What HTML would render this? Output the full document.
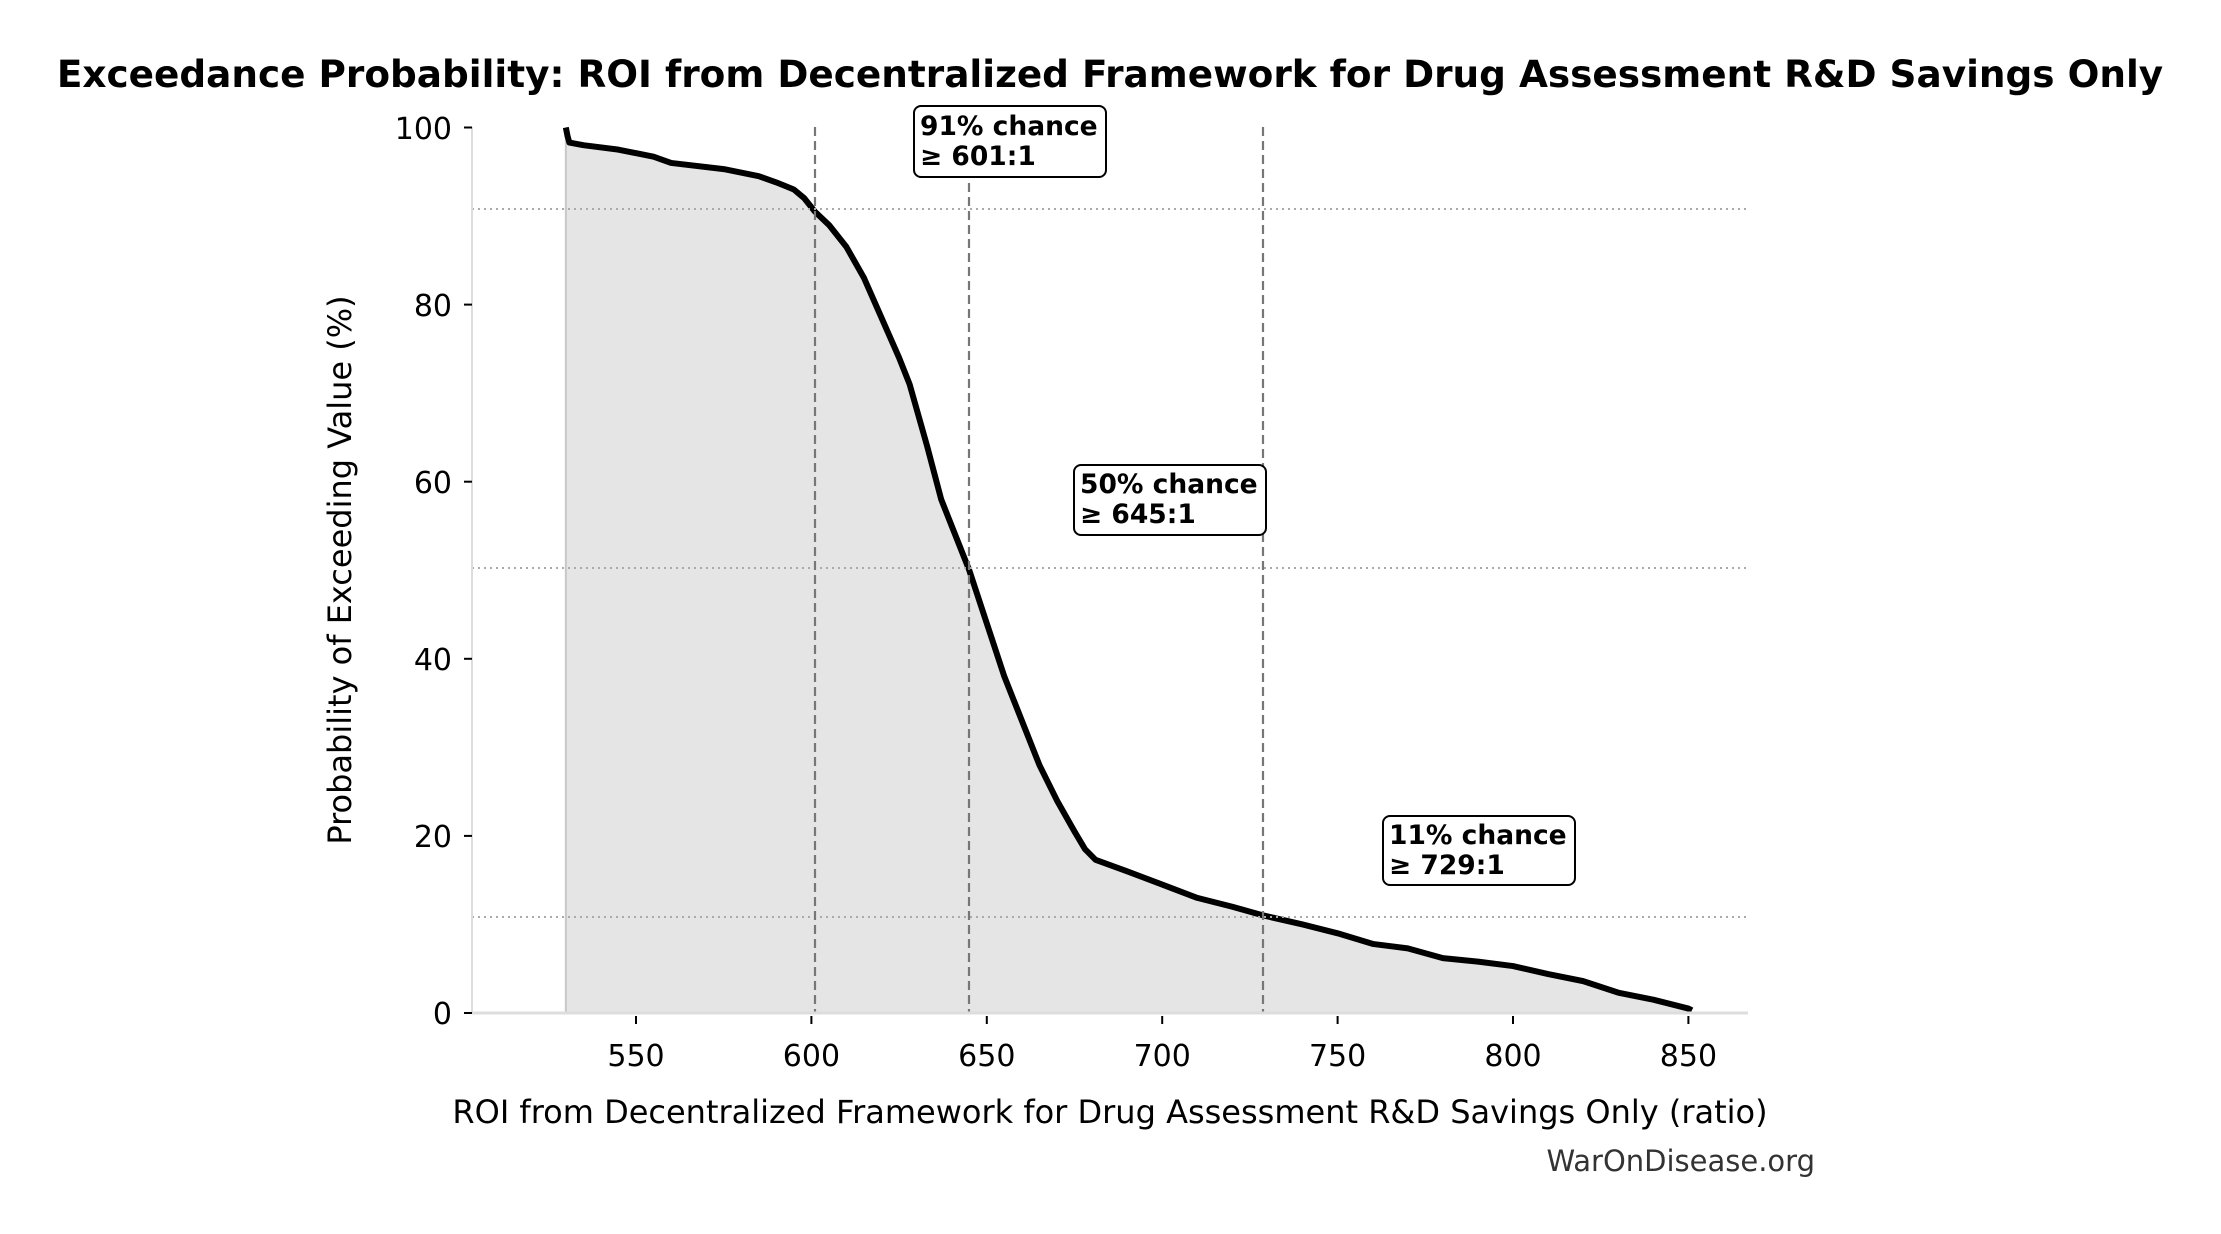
<!DOCTYPE html>
<html><head><meta charset="utf-8"><style>
html,body{margin:0;padding:0;background:#fff;}
svg{display:block;font-family:"DejaVu Sans","Liberation Sans",sans-serif;}
</style></head><body>
<svg width="2221" height="1234" viewBox="0 0 2221 1234" xmlns="http://www.w3.org/2000/svg">
<rect width="2221" height="1234" fill="#fff"/>
<text x="1110" y="87" text-anchor="middle" font-size="37.4" font-weight="bold">Exceedance Probability: ROI from Decentralized Framework for Drug Assessment R&amp;D Savings Only</text>

<g transform="translate(-1293.4,1013) scale(3.508,-8.855)">
<polygon fill="#e5e5e5" points="530,0 530,100 530.5,99 531,98.3 535,98 545,97.5 555,96.7 560,96 575,95.3 585,94.5 590,93.8 595,93 598,92 601,90.5 605,89 610,86.5 615,83 620,78.5 625,74 628,71 633,64 637,58 640,55 645,50 650,44 655,38 660,33 665,28 670,24 675,20.5 678,18.5 681,17.3 690,16 700,14.5 710,13 720,12 729,11 740,10 750,9 760,7.8 770,7.3 780,6.2 790,5.8 800,5.3 810,4.4 820,3.6 830,2.3 840,1.5 850,0.5 851,0.3 851,0"/>
<line x1="530" y1="0" x2="530" y2="100" stroke="#c8c8c8" stroke-width="2" vector-effect="non-scaling-stroke"/>
<polyline fill="none" stroke="#000" stroke-width="6" stroke-linejoin="round" vector-effect="non-scaling-stroke" points="530,100 530.5,99 531,98.3 535,98 545,97.5 555,96.7 560,96 575,95.3 585,94.5 590,93.8 595,93 598,92 601,90.5 605,89 610,86.5 615,83 620,78.5 625,74 628,71 633,64 637,58 640,55 645,50 650,44 655,38 660,33 665,28 670,24 675,20.5 678,18.5 681,17.3 690,16 700,14.5 710,13 720,12 729,11 740,10 750,9 760,7.8 770,7.3 780,6.2 790,5.8 800,5.3 810,4.4 820,3.6 830,2.3 840,1.5 850,0.5 851,0.3"/>
</g>

<g stroke="#aaa" stroke-width="2" stroke-dasharray="2,4">
<line x1="472" y1="209" x2="1748" y2="209"/>
<line x1="472" y1="568" x2="1748" y2="568"/>
<line x1="472" y1="917" x2="1748" y2="917"/>
</g>
<g stroke="#777" stroke-width="2.2" stroke-dasharray="9,5">
<line x1="815" y1="127" x2="815" y2="1013"/>
<line x1="969" y1="127" x2="969" y2="1013"/>
<line x1="1263" y1="127" x2="1263" y2="1013"/>
</g>

<line x1="472" y1="127" x2="472" y2="1013" stroke="#ddd" stroke-width="2"/>
<line x1="472" y1="1013" x2="1748" y2="1013" stroke="#ddd" stroke-width="3"/>

<g stroke="#000" stroke-width="2">
<line x1="464" y1="127.5" x2="472" y2="127.5"/>
<line x1="464" y1="304.6" x2="472" y2="304.6"/>
<line x1="464" y1="481.7" x2="472" y2="481.7"/>
<line x1="464" y1="658.8" x2="472" y2="658.8"/>
<line x1="464" y1="835.9" x2="472" y2="835.9"/>
<line x1="464" y1="1013" x2="472" y2="1013"/>
<line x1="636" y1="1016" x2="636" y2="1024"/>
<line x1="811.4" y1="1016" x2="811.4" y2="1024"/>
<line x1="986.8" y1="1016" x2="986.8" y2="1024"/>
<line x1="1162.2" y1="1016" x2="1162.2" y2="1024"/>
<line x1="1337.6" y1="1016" x2="1337.6" y2="1024"/>
<line x1="1513" y1="1016" x2="1513" y2="1024"/>
<line x1="1688.4" y1="1016" x2="1688.4" y2="1024"/>
</g>
<g font-size="30" text-anchor="end">
<text x="452" y="139">100</text>
<text x="452" y="316">80</text>
<text x="452" y="493">60</text>
<text x="452" y="670">40</text>
<text x="452" y="847">20</text>
<text x="452" y="1024">0</text>
</g>
<g font-size="30" text-anchor="middle">
<text x="636" y="1066">550</text>
<text x="811.4" y="1066">600</text>
<text x="986.8" y="1066">650</text>
<text x="1162.2" y="1066">700</text>
<text x="1337.6" y="1066">750</text>
<text x="1513" y="1066">800</text>
<text x="1688.4" y="1066">850</text>
</g>
<text x="1110" y="1123" text-anchor="middle" font-size="32">ROI from Decentralized Framework for Drug Assessment R&amp;D Savings Only (ratio)</text>
<text transform="translate(351,570) rotate(-90)" text-anchor="middle" font-size="32">Probability of Exceeding Value (%)</text>
<text x="1815" y="1171" text-anchor="end" font-size="29" fill="#333">WarOnDisease.org</text>

<g font-size="26.5" font-weight="bold">
<rect x="914" y="106" width="192" height="71" rx="7" fill="#fff" stroke="#000" stroke-width="2"/>
<text x="920" y="135">91% chance</text><text x="920" y="165">≥ 601:1</text>
<rect x="1074" y="465" width="192" height="70" rx="7" fill="#fff" stroke="#000" stroke-width="2"/>
<text x="1080" y="493">50% chance</text><text x="1080" y="523">≥ 645:1</text>
<rect x="1383" y="816" width="192" height="69" rx="7" fill="#fff" stroke="#000" stroke-width="2"/>
<text x="1389" y="844">11% chance</text><text x="1389" y="874">≥ 729:1</text>
</g>
</svg>
</body></html>
